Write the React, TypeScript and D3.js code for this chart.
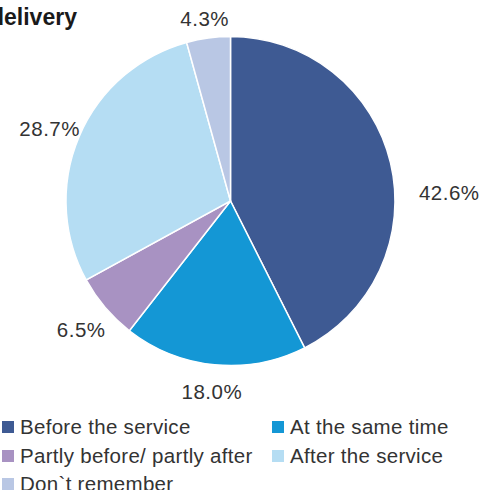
import React from "react";
import * as d3 from "d3";

const categories = ["Before the service", "At the same time", "Partly before/ partly after", "After the service", "Don`t remember"];
const values = [42.6, 18.0, 6.5, 28.7, 4.3];
const colors = ["#3e5a93", "#1497d5", "#a892c2", "#b5ddf3", "#b9c7e4"];
const titleText = "delivery";

const W = 480, H = 490;
const cx = 230.5, cy = 201, R = 164.5;
const labelR = 192;
// fine layout nudges for label placement (dx, dy)
const labelNudge: Record<string, [number, number]> = {
  "Before the service": [32, 36],
  "Partly before/ partly after": [-3, 4],
  "After the service": [-4, 3],
  "Don`t remember": [0, 8],
};

export default function App() {
  const data = categories.map((c, i) => ({ c, v: values[i], col: colors[i] }));
  const pie = d3.pie<any>().value((d) => d.v).sort(null);
  const arcs = pie(data);
  const arc = d3.arc<any>().innerRadius(0).outerRadius(R);
  const font = "'Liberation Sans', Arial, Helvetica, sans-serif";

  const legendCols = [0, 270];
  const legendRows = [427, 456, 484];

  return (
    <svg width={W} height={H} style={{ position: "absolute", left: 0, top: 0 }}>
      <rect width={W} height={H} fill="#fff" />
      <text x={-10} y={25} fontFamily={font} fontWeight="bold" fontSize={23} fill="#1a1a1a">{titleText}</text>
      <g transform={`translate(${cx},${cy})`}>
        {arcs.map((a, i) => (
          <path key={i} d={arc(a) as string} fill={a.data.col} stroke="#fff" strokeWidth={1.5} />
        ))}
        {arcs.map((a, i) => {
          const mid = (a.startAngle + a.endAngle) / 2;
          const nd = labelNudge[a.data.c] || [0, 0];
          const x = Math.sin(mid) * labelR + nd[0];
          const y = -Math.cos(mid) * labelR + nd[1];
          return (
            <text key={i} x={x} y={y} dy="0.35em" textAnchor="middle" fontFamily={font} fontSize={20.5} letterSpacing={0.5} fill="#333">
              {a.data.v.toFixed(1)}%
            </text>
          );
        })}
      </g>
      {data.map((d, i) => {
        const col = i % 2;
        const row = Math.floor(i / 2);
        const x = legendCols[col];
        const y = legendRows[row];
        return (
          <g key={i}>
            <rect x={x + 2} y={y - 6} width={12} height={12} fill={d.col} />
            <text x={x + 20} y={y} dy="0.35em" fontFamily={font} fontSize={20.5} letterSpacing={0.3} fill="#333">{d.c}</text>
          </g>
        );
      })}
    </svg>
  );
}
